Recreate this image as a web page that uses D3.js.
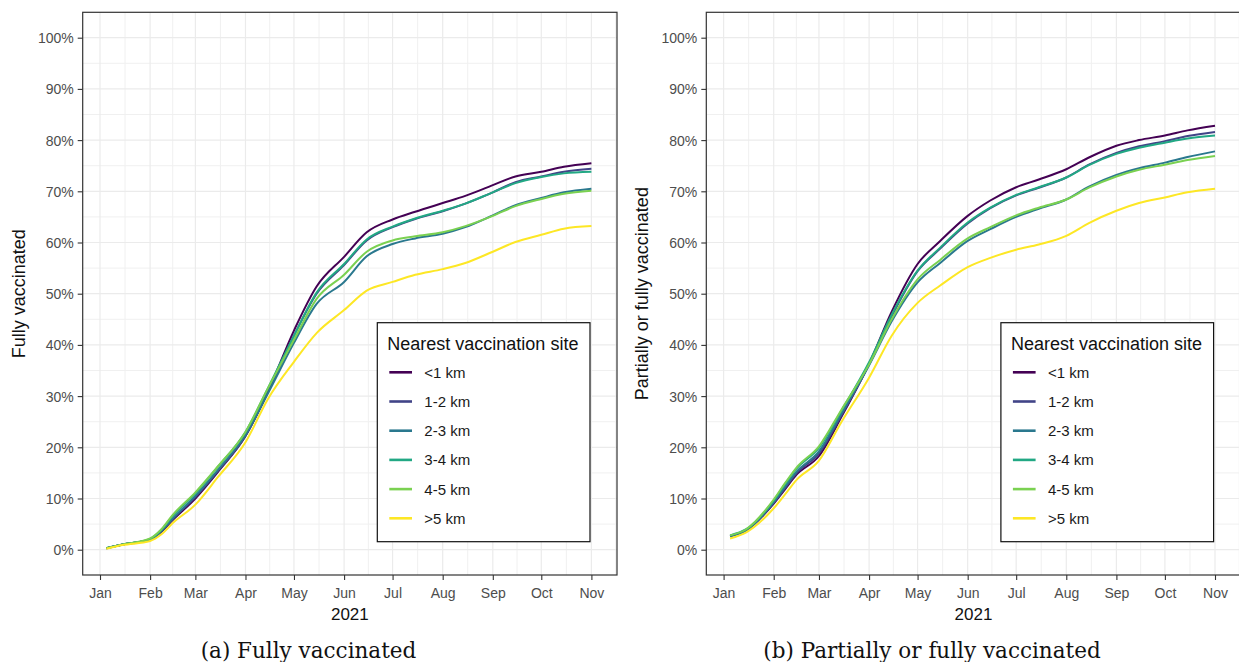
<!DOCTYPE html>
<html>
<head>
<meta charset="utf-8">
<script src="https://cdn.jsdelivr.net/npm/d3@7"></script>
<style>
  body { margin: 0; background: #fff; }
  svg { display: block; }
</style>
</head>
<body>
<div id="chart"></div>
<script>

const WIDTH = 1239;
const HEIGHT = 662;

// data (percent)
const dates = ["2021-01-05","2021-01-15","2021-02-01","2021-02-08","2021-02-15","2021-03-01",
  "2021-03-15","2021-04-01","2021-04-15","2021-05-01","2021-05-15","2021-06-01","2021-06-15",
  "2021-07-01","2021-07-15","2021-08-01","2021-08-15","2021-09-01","2021-09-15","2021-10-01",
  "2021-10-15","2021-11-01"];

const groups = ["<1 km", "1-2 km", "2-3 km", "3-4 km", "4-5 km", ">5 km"];
const colors = ["#440154", "#414487", "#2A788E", "#22A884", "#7AD151", "#FDE725"];

// panel (a) fully vaccinated
const fullLt1 = [0.3,1.0,2.0,3.5,5.8,10.0,15.2,22.2,31.0,42.8,51.4,57.2,62.0,64.5,66.0,67.7,69.1,71.2,72.9,73.8,74.8,75.5];
const full1to2 = [0.3,1.0,2.0,3.6,6.0,10.3,15.4,22.2,30.8,41.8,50.0,55.6,60.4,63.0,64.6,66.1,67.6,69.8,71.8,72.9,73.8,74.4];
const full2to3 = [0.3,1.0,2.0,3.7,6.1,10.5,15.6,22.4,30.6,40.4,48.0,52.3,57.3,59.7,60.8,61.7,63.0,65.3,67.3,68.7,69.8,70.5];
const full3to4 = [0.3,1.0,2.1,3.9,6.6,11.0,16.2,23.0,31.6,41.8,50.2,55.8,60.6,63.1,64.7,66.2,67.6,69.8,71.6,72.8,73.5,73.8];
const full4to5 = [0.3,1.0,2.2,4.0,6.8,11.2,16.3,23.0,31.6,41.0,49.0,53.7,58.2,60.4,61.2,62.0,63.2,65.2,67.1,68.5,69.5,70.1];
const fullGt5 = [0.2,0.9,1.7,3.0,5.2,8.8,14.2,21.0,29.5,36.7,42.3,46.8,50.6,52.3,53.7,54.8,56.0,58.2,60.1,61.5,62.7,63.2];

// panel (b) partially or fully vaccinated
const anyLt1 = [2.7,3.8,9.0,11.8,14.6,18.3,26.0,36.3,46.5,55.8,60.3,65.2,68.2,70.8,72.3,74.3,76.6,78.9,80.0,80.9,81.9,82.8];
const any1to2 = [2.6,3.8,9.2,12.0,14.9,18.8,26.3,36.2,45.6,54.4,58.8,63.7,66.7,69.2,70.7,72.7,75.2,77.5,78.8,79.8,80.8,81.6];
const any2to3 = [2.6,3.8,9.3,12.3,15.2,19.2,26.6,36.0,44.6,52.2,56.0,60.3,62.6,65.0,66.6,68.4,70.9,73.2,74.5,75.6,76.7,77.8];
const any3to4 = [2.8,4.0,9.6,12.8,15.8,19.9,27.2,36.6,45.9,54.5,59.0,63.9,66.8,69.3,70.8,72.7,75.1,77.3,78.5,79.5,80.3,80.9];
const any4to5 = [2.8,4.0,9.8,13.0,16.0,20.2,27.4,36.2,45.0,52.8,56.6,60.8,63.0,65.3,66.8,68.4,70.7,72.9,74.2,75.2,76.1,76.9];
const anyGt5 = [2.2,3.4,8.1,10.8,13.6,17.4,25.0,33.6,41.8,48.2,51.6,55.2,57.0,58.6,59.6,61.3,63.8,66.2,67.7,68.8,69.8,70.5];

const yTicks = [0,10,20,30,40,50,60,70,80,90,100];
const parse = d3.timeParse("%Y-%m-%d");
const parsedDates = dates.map(parse);

const svg = d3.select("#chart").append("svg")
  .attr("width", WIDTH)
  .attr("height", HEIGHT);

function drawPanel(left, series, yTitle, caption, captionX) {
  const top = 12.3, bottom = 575, right = left + 534.3;
  const jan = left + 17.3;

  const x = d3.scaleTime()
    .domain([parse("2021-01-01"), parse("2021-11-01")])
    .range([jan, jan + 491.4]);
  const y = d3.scaleLinear()
    .domain([0, 100])
    .range([549.7, 37.7]);

  const g = svg.append("g");

  // grid: minor first then major
  const months = d3.timeMonth.range(parse("2021-01-01"), parse("2021-11-02"));
  const minorX = [];
  for (let i = 0; i < months.length; i++) {
    const a = months[i];
    const b = d3.timeMonth.offset(a, 1);
    const mid = new Date((a.getTime() + b.getTime()) / 2);
    if (x(mid) < right) minorX.push(mid);
  }
  const minorY = [5,15,25,35,45,55,65,75,85,95];

  g.selectAll(".minx").data(minorX).enter().append("line")
    .attr("x1", d => x(d)).attr("x2", d => x(d))
    .attr("y1", top).attr("y2", bottom)
    .attr("stroke", "#f0f0f0").attr("stroke-width", 1);
  g.selectAll(".miny").data(minorY).enter().append("line")
    .attr("x1", left).attr("x2", right)
    .attr("y1", d => y(d)).attr("y2", d => y(d))
    .attr("stroke", "#f0f0f0").attr("stroke-width", 1);
  g.selectAll(".majx").data(months).enter().append("line")
    .attr("x1", d => x(d)).attr("x2", d => x(d))
    .attr("y1", top).attr("y2", bottom)
    .attr("stroke", "#ebebeb").attr("stroke-width", 1.2);
  g.selectAll(".majy").data(yTicks).enter().append("line")
    .attr("x1", left).attr("x2", right)
    .attr("y1", d => y(d)).attr("y2", d => y(d))
    .attr("stroke", "#ebebeb").attr("stroke-width", 1.2);

  // lines
  const line = d3.line()
    .x((d, i) => x(parsedDates[i]))
    .y(d => y(d))
    .curve(d3.curveMonotoneX);

  g.selectAll(".series").data(series).enter().append("path")
    .attr("d", d => line(d))
    .attr("fill", "none")
    .attr("stroke", (d, i) => colors[i])
    .attr("stroke-width", 2);

  // border
  g.append("rect")
    .attr("x", left).attr("y", top)
    .attr("width", right - left).attr("height", bottom - top)
    .attr("fill", "none").attr("stroke", "#333").attr("stroke-width", 1.2);

  // axes
  const xAxis = g.append("g")
    .attr("transform", "translate(0," + bottom + ")")
    .call(d3.axisBottom(x).tickValues(months).tickFormat(d3.timeFormat("%b")).tickSize(5).tickSizeOuter(0));
  const yAxis = g.append("g")
    .attr("transform", "translate(" + left + ",0)")
    .call(d3.axisLeft(y).tickValues(yTicks).tickFormat(d => d + "%").tickSize(5).tickSizeOuter(0));

  [xAxis, yAxis].forEach(a => {
    a.select(".domain").remove();
    a.selectAll(".tick line").attr("stroke", "#333").attr("stroke-width", 1.1);
    a.selectAll(".tick text")
      .attr("fill", "#4d4d4d")
      .style("font-family", "'Liberation Sans', Arial, sans-serif")
      .style("font-size", "14px");
  });
  xAxis.selectAll(".tick text").attr("dy", "1.05em");
  yAxis.selectAll(".tick text").attr("x", -9).attr("dy", "0.36em");

  // axis titles
  g.append("text")
    .attr("x", (left + right) / 2).attr("y", 620)
    .attr("text-anchor", "middle")
    .style("font-family", "'Liberation Sans', Arial, sans-serif")
    .style("font-size", "17px")
    .attr("fill", "#111")
    .text("2021");

  g.append("text")
    .attr("transform", "translate(" + (left - 58) + "," + ((top + bottom) / 2) + ") rotate(-90)")
    .attr("text-anchor", "middle")
    .style("font-family", "'Liberation Sans', Arial, sans-serif")
    .style("font-size", "18px")
    .attr("fill", "#111")
    .text(yTitle);

  // legend
  const lx = left + 294.6, ly = 322.7;
  const legend = g.append("g").attr("transform", "translate(" + lx + "," + ly + ")");
  legend.append("rect")
    .attr("width", 212.7).attr("height", 219)
    .attr("fill", "#fff").attr("stroke", "#111").attr("stroke-width", 1.2);
  legend.append("text")
    .attr("x", 10).attr("y", 27)
    .style("font-family", "'Liberation Sans', Arial, sans-serif")
    .style("font-size", "18px")
    .attr("fill", "#111")
    .text("Nearest vaccination site");
  const items = legend.selectAll(".item").data(groups).enter().append("g")
    .attr("transform", (d, i) => "translate(0," + (49.6 + i * 29.2) + ")");
  items.append("line")
    .attr("x1", 12).attr("x2", 34.7)
    .attr("stroke", (d, i) => colors[i]).attr("stroke-width", 2.6);
  items.append("text")
    .attr("x", 47).attr("dy", "0.36em")
    .style("font-family", "'Liberation Sans', Arial, sans-serif")
    .style("font-size", "15px")
    .attr("fill", "#1a1a1a")
    .text(d => d);

  // caption
  svg.append("text")
    .attr("x", captionX).attr("y", 658)
    .attr("text-anchor", "middle")
    .style("font-family", "'DejaVu Serif', serif")
    .style("font-size", "21.5px")
    .attr("fill", "#111")
    .text(caption);
}

drawPanel(82.7, [fullLt1, full1to2, full2to3, full3to4, full4to5, fullGt5],
  "Fully vaccinated", "(a) Fully vaccinated", 308.5);
drawPanel(706.3, [anyLt1, any1to2, any2to3, any3to4, any4to5, anyGt5],
  "Partially or fully vaccinated", "(b) Partially or fully vaccinated", 932);

</script>
</body>
</html>
